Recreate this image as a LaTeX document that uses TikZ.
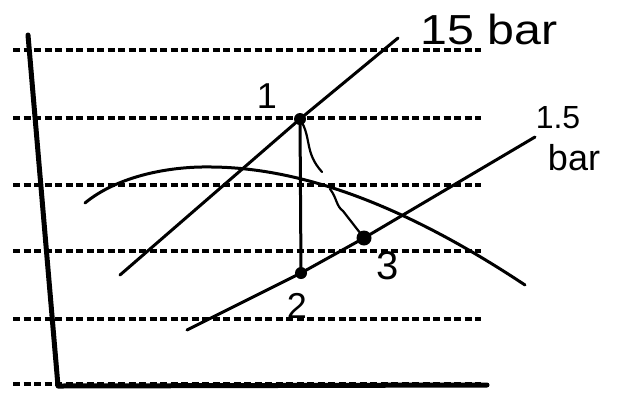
\documentclass[tikz,border=0pt]{standalone}
\usepackage{fontspec}
\setmainfont{Liberation Sans}
\begin{document}
\begin{tikzpicture}[x=1pt,y=-1pt,
  dashline/.style={line width=3.2pt,dash pattern=on 7pt off 3.5pt},
  axisline/.style={line width=5pt,line cap=round,line join=round},
  pen/.style={line width=3pt,line cap=round},
  thinpen/.style={line width=2.2pt,line cap=round},
  dot/.style={circle,fill=black,inner sep=0pt,minimum size=#1},
  lbl/.style={font=\fontsize{36}{36}\selectfont,inner sep=0pt}]
\useasboundingbox (0,0) rectangle (617,392);
\fill[white] (0,0) rectangle (617,392);
% dashed isobars
\foreach \yy/\n in {50/a,118/b,185/c,251/d,319/e,384/f}{
  \coordinate (dl\n) at (13,\yy);
  \coordinate (dr\n) at (481,\yy);
  \draw[dashline] (dl\n) -- (dr\n);
}
% axes
\coordinate (ytop) at (28,35);
\coordinate (origin) at (58,386);
\coordinate (xend) at (487,385);
\draw[axisline] (ytop) -- (origin) -- (xend);
% points
\node[dot=12pt] (p1) at (300,119) {};
\node[dot=12pt] (p2) at (301,273) {};
\node[dot=15pt] (p3) at (364,238) {};
% 15 bar line
\coordinate (hA) at (120,275);
\coordinate (hB) at (398,38);
\draw[pen] (hA) -- (p1.center) -- (hB);
% 1.5 bar line
\coordinate (lA) at (187,330);
\coordinate (lB) at (535,137);
\draw[pen] (lA) -- (p2.center) -- (p3.center) -- (lB);
% isentropic 1-2
\draw[pen] (p1.center) -- (p2.center);
% saturation dome
\coordinate (cA) at (85,203);
\coordinate (cT) at (212,167);
\coordinate (cB) at (525,285);
\draw[pen] (cA) .. controls (115,178) and (165,166) .. (cT)
  .. controls (320,168) and (430,222) .. (cB);
% wavy 1-3
\coordinate (w1) at (322,172);
\coordinate (w2) at (330,189);
\coordinate (w3) at (343,211);
\draw[thinpen] (p1.center) .. controls (312,138) and (304,152) .. (w1);
\draw[thinpen] (w2) .. controls (337,198) and (336,206) .. (w3) .. controls (350,220) .. (p3.center);
% labels
\node[lbl] (t1) at (267,96) {1};
\node[lbl] (t2) at (297,306) {2};
\node[lbl,font=\fontsize{40}{40}\selectfont] (t3) at (388,266) {3};
\node[lbl,font=\fontsize{42}{42}\selectfont,xscale=1.15] (t15) at (489,29) {15 bar};
\node[lbl,font=\fontsize{32}{32}\selectfont] (t15a) at (558,118) {1.5};
\node[lbl,font=\fontsize{36}{36}\selectfont] (t15b) at (574,158) {bar};
\end{tikzpicture}
\end{document}
